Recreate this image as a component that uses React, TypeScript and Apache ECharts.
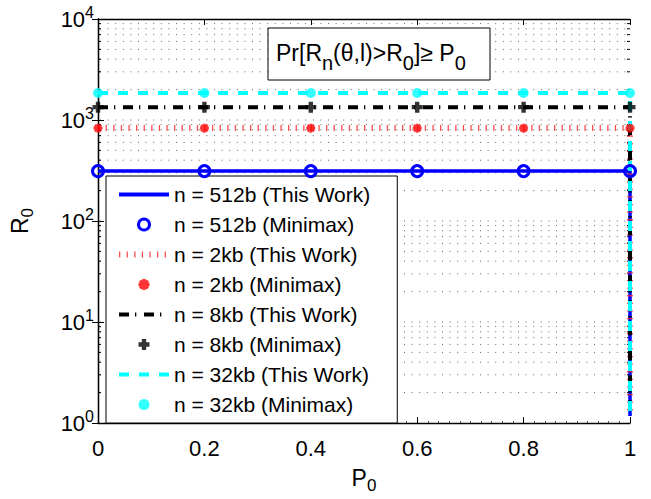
import React, { useEffect, useRef } from "react";
import * as echarts from "echarts";

// ---- data ----
const minimaxP0 = [0, 0.2, 0.4, 0.6, 0.8, 1];
const thisWorkP0 = [0, 0.2, 0.4, 0.6, 0.8, 1, 1];

const r512ThisWork = [312, 312, 312, 312, 312, 312, 1.17];
const r512Minimax = [312, 312, 312, 312, 312, 312];
const r2kThisWork = [835, 835, 835, 835, 835, 835, 1.17];
const r2kMinimax = [830, 830, 830, 830, 830, 830];
const r8kThisWork = [1340, 1340, 1340, 1340, 1340, 1340, 1.17];
const r8kMinimax = [1340, 1340, 1340, 1340, 1340, 1340];
const r32kThisWork = [1855, 1855, 1855, 1855, 1855, 1855, 1.17];
const r32kMinimax = [1850, 1850, 1850, 1850, 1850, 1850];

const seriesNames = [
  "n = 512b (This Work)",
  "n = 512b (Minimax)",
  "n = 2kb (This Work)",
  "n = 2kb (Minimax)",
  "n = 8kb (This Work)",
  "n = 8kb (Minimax)",
  "n = 32kb (This Work)",
  "n = 32kb (Minimax)",
];

// log-axis grid lines (minor: 2..9 per decade, major: decades)
const minorGridValues = [
  2, 3, 4, 5, 6, 7, 8, 9,
  20, 30, 40, 50, 60, 70, 80, 90,
  200, 300, 400, 500, 600, 700, 800, 900,
  2000, 3000, 4000, 5000, 6000, 7000, 8000, 9000,
];
const majorGridValues = [10, 100, 1000];

const FONT = "'Liberation Sans', Arial, Helvetica, sans-serif";

const ASTERISK =
  "path://M-1.5,-5L1.5,-5L1.5,5L-1.5,5Z M-5,-1.5L5,-1.5L5,1.5L-5,1.5Z M2.47,-4.6L4.6,-2.47L-2.47,4.6L-4.6,2.47Z M-4.6,-2.47L-2.47,-4.6L4.6,2.47L2.47,4.6Z";
const PLUS =
  "path://M-2,-5L2,-5L2,-2L5,-2L5,2L2,2L2,5L-2,5L-2,2L-5,2L-5,-2L-2,-2Z";

function zip(xs: number[], ys: number[]) {
  return xs.map((x, i) => [x, ys[i]]);
}

export default function App() {
  const ref = useRef<HTMLDivElement>(null);

  useEffect(() => {
    if (!ref.current) return;
    const chart = echarts.init(ref.current, undefined, { renderer: "svg" });

    const gridRender = (params: any, api: any) => {
      const v = api.value(1);
      const isMajor = api.value(2) === 1;
      const pt = api.coord([0, v]);
      const cs = params.coordSys;
      const y = pt[1];
      const children: any[] = [
        {
          type: "line",
          shape: { x1: cs.x + 2, y1: y, x2: cs.x + cs.width, y2: y },
          style: { stroke: "#666", lineWidth: 1, lineDash: [1, 6.6] },
        },
      ];
      if (!isMajor) {
        children.push({
          type: "line",
          shape: { x1: cs.x, y1: y, x2: cs.x + 3, y2: y },
          style: { stroke: "#000", lineWidth: 1 },
        });
        children.push({
          type: "line",
          shape: { x1: cs.x + cs.width - 3, y1: y, x2: cs.x + cs.width, y2: y },
          style: { stroke: "#000", lineWidth: 1 },
        });
      }
      return { type: "group", children };
    };

    const gridData = [
      ...minorGridValues.map((v) => [0, v, 0]),
      ...majorGridValues.map((v) => [0, v, 1]),
    ];

    const supFmt = (v: number) => {
      const k = Math.round(Math.log10(v));
      return "{b|10}{e|" + k + "}";
    };

    const axisLineStyle = { color: "#000", width: 1.3 };
    const hiddenSymbol = { color: "rgba(0,0,0,0)", borderWidth: 0, opacity: 0 };

    const option: any = {
      animation: false,
      backgroundColor: "#fff",
      grid: { left: 96, right: 21, top: 19, bottom: 70, containLabel: false },
      xAxis: [
        {
          type: "value",
          min: 0,
          max: 1,
          interval: 0.2,
          position: "bottom",
          name: "P{s|0}",
          nameLocation: "middle",
          nameGap: 38,
          nameTextStyle: {
            fontSize: 23,
            fontFamily: FONT,
            color: "#000",
            rich: { s: { fontSize: 17, fontFamily: FONT, color: "#000", padding: [16, 0, 0, 0] } },
          },
          axisLine: { show: true, lineStyle: axisLineStyle },
          axisTick: { show: true, inside: true, length: 6, lineStyle: { color: "#000" } },
          minorTick: { show: true, splitNumber: 10, length: 2, lineStyle: { color: "#555" } },
          axisLabel: {
            fontSize: 22,
            fontFamily: FONT,
            color: "#000",
            margin: 14,
          },
          splitLine: { show: false },
        },
        {
          type: "value",
          min: 0,
          max: 1,
          interval: 0.2,
          position: "top",
          axisLine: { show: true, lineStyle: axisLineStyle },
          axisTick: { show: true, inside: true, length: 6, lineStyle: { color: "#000" } },
          axisLabel: { show: false },
          splitLine: { show: false },
        },
      ],
      yAxis: [
        {
          type: "log",
          logBase: 10,
          min: 1,
          max: 10000,
          position: "left",
          name: "R{s|0}",
          nameLocation: "middle",
          nameRotate: 90,
          nameGap: 62,
          nameTextStyle: {
            fontSize: 23,
            fontFamily: FONT,
            color: "#000",
            rich: { s: { fontSize: 17, fontFamily: FONT, color: "#000", padding: [16, 0, 0, 0] } },
          },
          axisLine: { show: true, lineStyle: axisLineStyle },
          axisTick: { show: true, inside: true, length: 6, lineStyle: { color: "#000" } },
          axisLabel: {
            formatter: supFmt,
            margin: 4,
            rich: {
              b: { fontSize: 22, fontFamily: FONT, color: "#000" },
              e: { fontSize: 16, fontFamily: FONT, color: "#000", padding: [0, 0, 14, 0] },
            },
          },
          splitLine: { show: false },
        },
        {
          type: "log",
          logBase: 10,
          min: 1,
          max: 10000,
          position: "right",
          axisLine: { show: true, lineStyle: axisLineStyle },
          axisTick: { show: true, inside: true, length: 6, lineStyle: { color: "#000" } },
          axisLabel: { show: false },
          splitLine: { show: false },
        },
      ],
      legend: {
        orient: "vertical",
        left: 106,
        top: 176,
        itemWidth: 50,
        itemHeight: 11,
        itemGap: 9,
        padding: [8, 27, 8, 10],
        backgroundColor: "#fff",
        borderColor: "#000",
        borderWidth: 1,
        borderRadius: 0,
        textStyle: { fontSize: 21, fontFamily: FONT, color: "#000", lineHeight: 21 },
        data: [
          {
            name: seriesNames[0],
            itemStyle: hiddenSymbol,
            lineStyle: { width: 4, color: "#0000ff", type: "solid" },
          },
          {
            name: seriesNames[1],
            itemStyle: { color: "rgba(0,0,0,0)", borderColor: "#0000ff", borderWidth: 3 },
          },
          {
            name: seriesNames[2],
            itemStyle: hiddenSymbol,
            lineStyle: { width: 6, color: "#ff2020", type: [1.3, 6.3], opacity: 0.8 },
          },
          { name: seriesNames[3] },
          {
            name: seriesNames[4],
            itemStyle: hiddenSymbol,
            lineStyle: { width: 4, color: "#000", type: [10, 6, 1.3, 7.7] },
          },
          { name: seriesNames[5] },
          {
            name: seriesNames[6],
            itemStyle: hiddenSymbol,
            lineStyle: { width: 4, color: "#00ffff", type: [10, 10] },
          },
          { name: seriesNames[7] },
        ],
      },
      graphic: [
        {
          type: "rect",
          shape: { x: 268, y: 28, width: 222, height: 52 },
          style: { fill: "#fff", stroke: "#000", lineWidth: 1 },
          z: 50,
        },
        {
          type: "text",
          x: 276,
          y: 33,
          z: 51,
          style: {
            text: "Pr[R{s|n}(θ,l)>R{s|0}]≥ P{s|0}",
            fontSize: 23,
            fontFamily: FONT,
            fill: "#000",
            rich: {
              s: { fontSize: 20, fontFamily: FONT, fill: "#000", padding: [20, 0, 0, 0] },
            },
          },
        },
      ],
      series: [
        {
          type: "custom",
          name: "grid",
          silent: true,
          z: 0,
          clip: false,
          renderItem: gridRender,
          data: gridData,
        },
        {
          name: seriesNames[0],
          type: "line",
          data: zip(thisWorkP0, r512ThisWork),
          symbol: "none",
          clip: false,
          z: 3,
          color: "#0000ff",
          lineStyle: { color: "#0000ff", width: 3.5, type: "solid" },
        },
        {
          name: seriesNames[1],
          type: "scatter",
          data: zip(minimaxP0, r512Minimax),
          symbol: "circle",
          symbolSize: 11,
          clip: false,
          z: 4,
          itemStyle: { color: "rgba(0,0,0,0)", borderColor: "#0000ff", borderWidth: 3, opacity: 1 },
        },
        {
          name: seriesNames[2],
          type: "line",
          data: zip(thisWorkP0, r2kThisWork),
          symbol: "none",
          clip: false,
          z: 3,
          color: "#ff0000",
          lineStyle: { color: "#ff2020", width: 6, type: [1.3, 6.3], opacity: 0.8 },
        },
        {
          name: seriesNames[3],
          type: "scatter",
          data: zip(minimaxP0, r2kMinimax),
          symbol: ASTERISK,
          symbolSize: 9,
          clip: false,
          z: 4,
          itemStyle: { color: "#ff0000" },
        },
        {
          name: seriesNames[4],
          type: "line",
          data: zip(thisWorkP0, r8kThisWork),
          symbol: "none",
          clip: false,
          z: 3,
          color: "#000",
          lineStyle: { color: "#000", width: 4, type: [10, 6, 1.3, 7.7] },
        },
        {
          name: seriesNames[5],
          type: "scatter",
          data: zip(minimaxP0, r8kMinimax),
          symbol: PLUS,
          symbolSize: 11,
          clip: false,
          z: 4,
          itemStyle: { color: "#000" },
        },
        {
          name: seriesNames[6],
          type: "line",
          data: zip(thisWorkP0, r32kThisWork),
          symbol: "none",
          clip: false,
          z: 3,
          color: "#00ffff",
          lineStyle: { color: "#00ffff", width: 4, type: [10, 10] },
        },
        {
          name: seriesNames[7],
          type: "scatter",
          data: zip(minimaxP0, r32kMinimax),
          symbol: "circle",
          symbolSize: 10,
          clip: false,
          z: 4,
          itemStyle: { color: "#00ffff" },
        },
      ],
    };

    chart.setOption(option);
    return () => chart.dispose();
  }, []);

  return (
    <div
      ref={ref}
      style={{ position: "fixed", left: 0, top: 0, width: 651, height: 499, background: "#fff" }}
    />
  );
}
